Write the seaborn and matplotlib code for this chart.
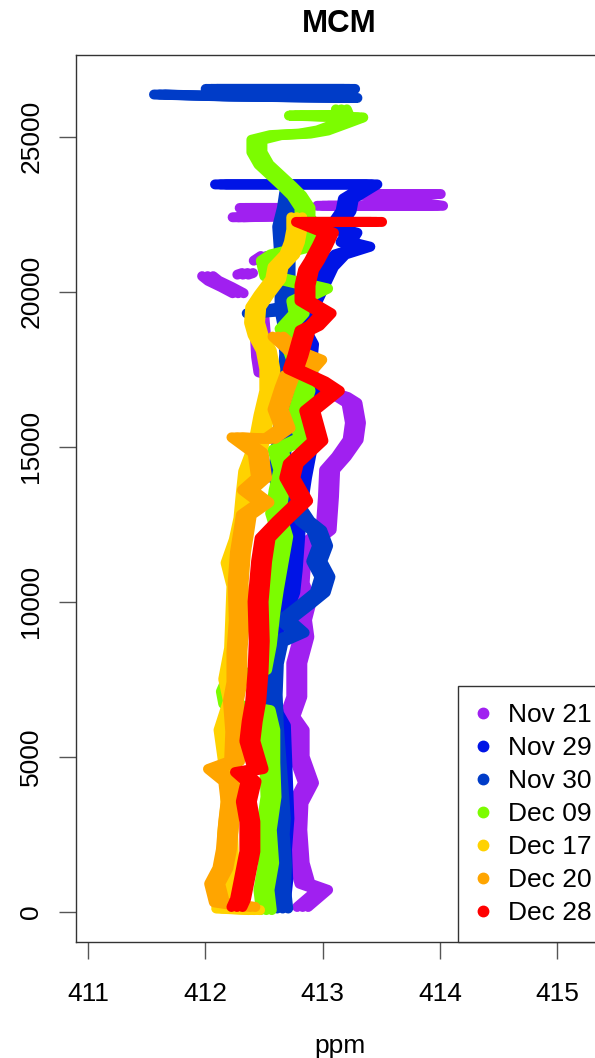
import matplotlib
matplotlib.use("Agg")
import matplotlib.pyplot as plt
import seaborn as sns
import pandas as pd
from matplotlib.lines import Line2D
from matplotlib.transforms import offset_copy

# ---------------- data (ppm, altitude) per flight, split in drawn segments -------------
flights = ["Nov 21", "Nov 29", "Nov 30", "Dec 09", "Dec 17", "Dec 20", "Dec 28"]
colors = ["#A020F0", "#0014E6", "#003CC8", "#7CFC00", "#FFD200", "#FFA500", "#FF0000"]

nov21_ppm = [
    [412.83, 413.00, 412.85, 412.80, 412.78, 412.79, 412.88, 412.80, 412.80, 412.72,
     412.78, 412.78, 412.84, 412.82, 412.86, 412.80, 412.82, 413.03, 413.05, 413.06,
     413.16, 413.26, 413.28, 413.25, 413.17, 412.50, 412.48, 412.47, 412.45],
    [412.28, 412.18, 412.07, 412.02],
    [412.32, 412.36],
    [412.46, 412.52],
    [412.68, 412.71],
    [412.28, 412.82, 412.34, 412.82],
    [413.00, 413.98, 413.30, 413.96],
]
nov21_alt = [
    [150, 700, 900, 1570, 2640, 3500, 4150, 5000, 5860, 6290,
     6930, 8020, 8860, 9410, 10000, 10600, 11700, 12310, 13380, 14250,
     14680, 15220, 15770, 16410, 16600, 17400, 17900, 18600, 19500],
    [19950, 20150, 20350, 20500],
    [20550, 20600],
    [21000, 21150],
    [21900, 22050],
    [22400, 22450, 22700, 22700],
    [22770, 22770, 23150, 23150],
]

nov29_ppm = [
    [412.64, 412.66, 412.65, 412.67, 412.66, 412.65, 412.64, 412.58, 412.55, 412.55,
     412.58, 412.66, 412.72, 412.74, 412.76, 412.78, 412.82, 412.86, 412.87, 412.90,
     412.92, 412.86, 412.88, 412.78, 412.90, 413.05, 413.15, 413.36, 413.20, 413.25,
     413.10, 413.20, 413.22, 413.42, 412.13],
]
nov29_alt = [
    [300, 1000, 2000, 3000, 4000, 5000, 6000, 6400, 7000, 8000,
     9000, 9700, 10300, 11000, 12000, 13000, 14000, 14800, 15500, 16400,
     16900, 17500, 18300, 19000, 19600, 20800, 21200, 21450, 21600, 21900,
     22050, 22600, 23000, 23460, 23460],
]

nov30_ppm = [
    [412.66, 412.64, 412.65, 412.63, 412.64, 412.62, 412.60, 412.58, 412.57, 412.58,
     412.62, 412.80, 412.68, 412.85, 412.98, 413.02, 412.95, 413.00, 412.95, 412.85,
     412.78, 412.62, 412.65, 412.68, 412.70, 412.72, 412.70, 412.68, 412.40, 412.68,
     412.68, 412.66, 412.70, 412.72],
    [411.61, 412.20, 413.25, 412.05, 413.23],
]
nov30_alt = [
    [100, 800, 1500, 2500, 3000, 4000, 5000, 6000, 7000, 8000,
     8700, 9000, 9400, 9900, 10300, 10800, 11300, 11800, 12300, 12600,
     13000, 14000, 15000, 16000, 17000, 18000, 19000, 19400, 19300, 19500,
     21000, 22100, 22700, 23200],
    [26360, 26300, 26250, 26540, 26540],
]

dec09_ppm = [
    [412.52, 412.50, 412.54, 412.52, 412.56, 412.55, 412.55, 412.51, 412.20, 412.18,
     412.22, 412.48, 412.52, 412.55, 412.58, 412.62, 412.66, 412.60, 412.63, 412.67,
     412.62, 412.85, 412.82, 412.80, 412.85, 412.80, 412.72, 412.68, 412.80, 412.78,
     413.00, 412.55, 412.52, 412.60, 412.92, 412.95, 412.85, 412.85, 412.78, 412.70,
     412.60, 412.50, 412.44, 412.44, 412.60, 412.85, 413.00, 413.18, 413.30, 412.76,
     413.18, 413.16],
]
dec09_alt = [
    [50, 700, 1570, 2640, 3700, 4800, 5860, 6500, 6700, 7100,
     7450, 7800, 8600, 9630, 10380, 11250, 12100, 12850, 13600, 14250,
     14900, 15300, 15540, 16200, 16800, 17600, 18400, 18800, 19300, 19700,
     20100, 20500, 21000, 21200, 21500, 21900, 22400, 22700, 23100, 23400,
     23750, 24100, 24500, 24900, 25050, 25100, 25200, 25450, 25620, 25680,
     25700, 25880],
]

dec17_ppm = [
    [412.42, 412.14, 412.16, 412.20, 412.19, 412.22, 412.21, 412.16, 412.24, 412.20,
     412.25, 412.26, 412.27, 412.22, 412.29, 412.33, 412.35, 412.37, 412.45, 412.50,
     412.55, 412.55, 412.52, 412.45, 412.42, 412.43, 412.50, 412.60, 412.62, 412.72,
     412.76, 412.78, 412.78],
]
dec17_alt = [
    [50, 100, 500, 1500, 2500, 3500, 4500, 5860, 6800, 7500,
     8500, 9500, 10500, 11250, 12000, 12700, 13500, 14200, 15000, 16000,
     16800, 17500, 18100, 18600, 19000, 19500, 19900, 20400, 20800, 21200,
     21600, 22000, 22400],
]

dec20_ppm = [
    [412.38, 412.12, 412.08, 412.15, 412.18, 412.20, 412.22, 412.20, 412.07, 412.25,
     412.26, 412.24, 412.27, 412.27, 412.29, 412.28, 412.30, 412.33, 412.35, 412.50,
     412.36, 412.48, 412.45, 412.27, 412.55, 412.68, 412.62, 412.68, 412.72, 412.88,
     412.95, 412.75, 412.62],
]
dec20_alt = [
    [150, 300, 900, 1400, 2000, 2900, 3550, 4200, 4600, 4850,
     5800, 6800, 7400, 8400, 9400, 10600, 11600, 12300, 12800, 13200,
     13600, 14000, 14800, 15300, 15250, 15600, 16200, 16900, 17300, 17500,
     17800, 18100, 18550],
]

dec28_ppm = [
    [412.27, 412.30, 412.33, 412.38, 412.38, 412.35, 412.39, 412.30, 412.45, 412.38,
     412.40, 412.43, 412.45, 412.46, 412.45, 412.48, 412.51, 412.65, 412.83, 412.72,
     412.75, 412.96, 412.89, 413.10, 412.98, 412.75, 412.79, 412.85, 412.93, 413.03,
     412.85, 412.85, 412.88, 412.93, 413.00, 413.05, 412.82, 413.46],
]
dec28_alt = [
    [150, 400, 970, 1940, 2900, 3550, 4200, 4500, 4600, 5500,
     6140, 6790, 7760, 8730, 10000, 11300, 12050, 12600, 13250, 13990,
     14450, 15190, 16160, 16800, 17100, 17500, 17940, 18750, 18900, 19300,
     19700, 20200, 20700, 21000, 21500, 21900, 22250, 22250],
]

all_ppm = [nov21_ppm, nov29_ppm, nov30_ppm, dec09_ppm, dec17_ppm, dec20_ppm, dec28_ppm]
all_alt = [nov21_alt, nov29_alt, nov30_alt, dec09_alt, dec17_alt, dec20_alt, dec28_alt]

x_ticks = [411, 412, 413, 414, 415]
y_ticks = [0, 5000, 10000, 15000, 20000, 25000]

# ---------------- figure ----------------
sns.set_theme(style="white")
plt.rcParams["font.family"] = ["Liberation Sans", "DejaVu Sans"]
plt.rcParams["text.color"] = "black"

W, H = 595, 1058
fig = plt.figure(figsize=(W / 100, H / 100), dpi=100)
ax = fig.add_axes([76 / W, 1 - 942 / H, (603 - 76) / W, (942 - 55) / H])

LW = 7.2
for i, (name, ppm, alt, col) in enumerate(zip(flights, all_ppm, all_alt, colors)):
    rows = []
    for s, (px, al) in enumerate(zip(ppm, alt)):
        for k, (p, a) in enumerate(zip(px, al)):
            rows.append({"ppm": p, "alt": a, "seg": s, "order": k})
    df = pd.DataFrame(rows)
    n0 = len(ax.lines)
    sns.lineplot(data=df, x="ppm", y="alt", units="seg", estimator=None, sort=False,
                 color=col, linewidth=LW, ax=ax, legend=False)
    z = 2 + i * 0.1
    for ln in list(ax.lines[n0:]):
        ln.set_solid_capstyle("round")
        ln.set_solid_joinstyle("round")
        ln.set_zorder(z)
        for dx in (-5.5, 5.5):
            cp = Line2D(ln.get_xdata(), ln.get_ydata(), color=col, lw=LW,
                        solid_capstyle="round", solid_joinstyle="round", zorder=z,
                        transform=offset_copy(ax.transData, fig=fig, x=dx, y=0, units="dots"))
            ax.add_line(cp)

ax.set_xlim(410.898, 415.39)
ax.set_ylim(-980, 27635)
ax.set_xticks(x_ticks)
ax.set_xticklabels([str(t) for t in x_ticks])
ax.set_yticks(y_ticks)
ax.set_yticklabels([str(t) for t in y_ticks])

ax.tick_params(axis="both", which="major", direction="out", length=12, width=1,
               color="#555555", labelsize=19, labelcolor="black",
               bottom=True, left=True, top=False, right=False)
ax.tick_params(axis="x", pad=16.5)
ax.tick_params(axis="y", pad=11.5)
for lab in ax.get_yticklabels():
    lab.set_rotation(90)
    lab.set_va("center")
for sp in ax.spines.values():
    sp.set_visible(True)
    sp.set_color("#333333")
    sp.set_linewidth(1)

ax.set_title("MCM", fontsize=22.5, fontweight="bold", pad=16.5, color="black")
ax.set_xlabel("ppm", fontsize=19, labelpad=20.5, color="black")
ax.set_ylabel("")

handles = [Line2D([0], [0], marker="o", ls="", color=c, markersize=7.5) for c in colors]
leg = ax.legend(handles, flights, loc="lower right", bbox_to_anchor=(1.0114, 0.0),
                borderaxespad=0, fontsize=19, frameon=True, fancybox=False,
                edgecolor="#333333", framealpha=1, borderpad=0.65, handlelength=0.6,
                handletextpad=0.64, labelspacing=0.34)
leg.get_frame().set_linewidth(1)
for t in leg.get_texts():
    t.set_color("black")
leg.set_zorder(10)

fig.savefig("out.png", dpi=100)
